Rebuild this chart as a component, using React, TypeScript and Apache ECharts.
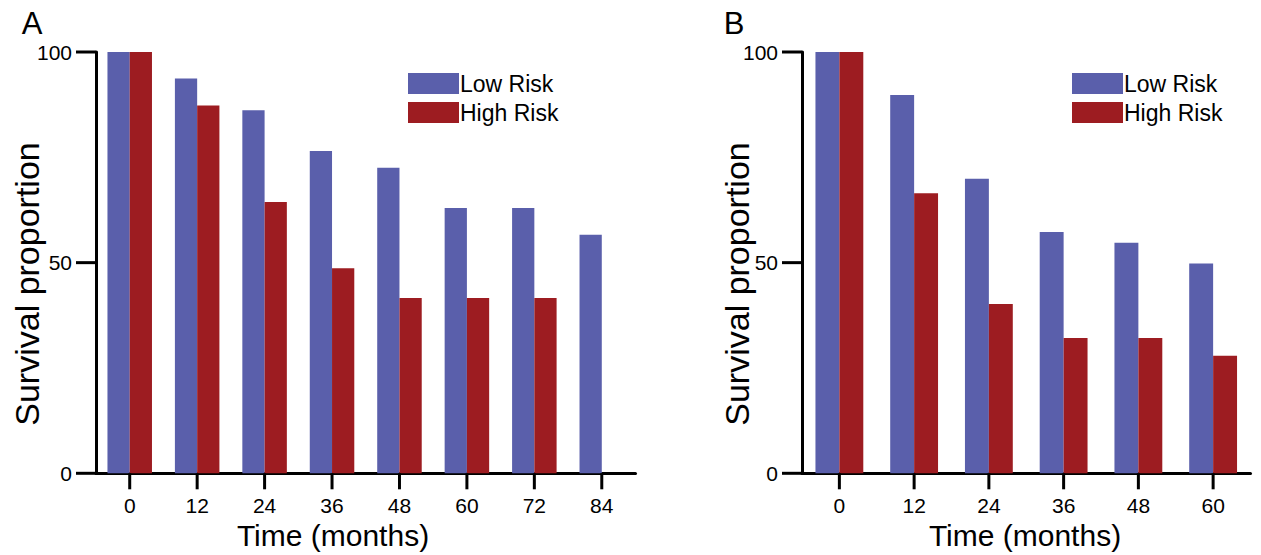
import React, { useEffect, useRef } from "react";
import * as echarts from "echarts";

const categoriesA = ["0", "12", "24", "36", "48", "60", "72", "84"];
const lowRiskA = [100, 93.7, 86.2, 76.5, 72.5, 63.0, 63.0, 56.6];
const highRiskA: (number | string)[] = [100, 87.3, 64.4, 48.7, 41.6, 41.6, 41.6, "-"];

const categoriesB = ["0", "12", "24", "36", "48", "60"];
const lowRiskB = [100, 89.8, 69.9, 57.3, 54.7, 49.8];
const highRiskB = [100, 66.5, 40.2, 32.1, 32.1, 27.9];

const yTicks = [0, 50, 100];
const seriesNames = ["Low Risk", "High Risk"];

const BLUE = "#5a5fab";
const RED = "#9d1c21";
const FONT = "'Liberation Sans', Arial, Helvetica, sans-serif";

export default function App() {
  const ref = useRef<HTMLDivElement>(null);
  useEffect(() => {
    document.body.style.margin = "0";
    if (!ref.current) return;
    const chart = echarts.init(ref.current, undefined, { renderer: "svg" });

    const xAxisCommon = {
      type: "category" as const,
      axisLine: { show: true, lineStyle: { color: "#000", width: 3 } },
      axisTick: { show: false },
      axisLabel: { fontSize: 21, color: "#000", margin: 22, fontFamily: FONT },
    };
    const yAxisCommon = {
      type: "value" as const,
      min: yTicks[0],
      max: yTicks[yTicks.length - 1],
      interval: yTicks[1] - yTicks[0],
      axisLine: { show: true, lineStyle: { color: "#000", width: 3 } },
      axisTick: { show: false },
      axisLabel: { fontSize: 21, color: "#000", margin: 24, fontFamily: FONT },
      splitLine: { show: false },
    };
    const legendCommon = {
      data: seriesNames,
      orient: "vertical" as const,
      itemWidth: 51,
      itemHeight: 21,
      itemGap: 6,
      icon: "rect",
      textStyle: { fontSize: 23, color: "#000", fontFamily: FONT, lineHeight: 21, padding: [0, 0, 0, -4] },
    };
    const barCommon = { type: "bar" as const, barGap: "0%" };
    const textStyle = (t: string, size: number) => ({
      text: t,
      fontSize: size,
      fontFamily: FONT,
      fill: "#000",
      align: "center",
      verticalAlign: "middle",
    });

    // Tick marks drawn by custom series through the axes' own scales
    const xTickSeries = (idx: number, cats: string[]) => ({
      type: "custom" as const,
      xAxisIndex: idx,
      yAxisIndex: idx,
      silent: true,
      clip: false,
      z: 10,
      data: cats.map((_, i) => [i, yTicks[0]]),
      renderItem: (params: any, api: any) => {
        const p = api.coord([api.value(0), api.value(1)]);
        return {
          type: "line",
          shape: { x1: p[0], y1: p[1], x2: p[0], y2: p[1] + 16 },
          style: { stroke: "#000", lineWidth: 3 },
        };
      },
    });
    const yTickSeries = (idx: number) => ({
      type: "custom" as const,
      xAxisIndex: idx,
      yAxisIndex: idx,
      silent: true,
      clip: false,
      z: 10,
      data: yTicks.map((v) => [0, v]),
      renderItem: (params: any, api: any) => {
        const p = api.coord([api.value(0), api.value(1)]);
        const band = api.size([1, 0])[0];
        const x0 = p[0] - band / 2;
        return {
          type: "line",
          shape: { x1: x0 - 20, y1: p[1], x2: x0, y2: p[1] },
          style: { stroke: "#000", lineWidth: 3 },
        };
      },
    });

    chart.setOption({
      animation: false,
      backgroundColor: "#fff",
      color: [BLUE, RED],
      grid: [
        { left: 96, top: 52, width: 539.5, height: 421.3 },
        { left: 802, top: 52, width: 448.5, height: 421.3 },
      ],
      xAxis: [
        { ...xAxisCommon, gridIndex: 0, data: categoriesA },
        { ...xAxisCommon, gridIndex: 1, data: categoriesB },
      ],
      yAxis: [
        { ...yAxisCommon, gridIndex: 0 },
        { ...yAxisCommon, gridIndex: 1 },
      ],
      legend: [
        { ...legendCommon, left: 403, top: 67 },
        { ...legendCommon, left: 1067, top: 67 },
      ],
      series: [
        { ...barCommon, name: seriesNames[0], xAxisIndex: 0, yAxisIndex: 0, data: lowRiskA, barCategoryGap: "34%", itemStyle: { color: BLUE } },
        { ...barCommon, name: seriesNames[1], xAxisIndex: 0, yAxisIndex: 0, data: highRiskA, barCategoryGap: "34%", itemStyle: { color: RED } },
        { ...barCommon, name: seriesNames[0], xAxisIndex: 1, yAxisIndex: 1, data: lowRiskB, barCategoryGap: "36%", itemStyle: { color: BLUE } },
        { ...barCommon, name: seriesNames[1], xAxisIndex: 1, yAxisIndex: 1, data: highRiskB, barCategoryGap: "36%", itemStyle: { color: RED } },
        xTickSeries(0, categoriesA),
        xTickSeries(1, categoriesB),
        yTickSeries(0),
        yTickSeries(1),
      ],
      graphic: [
        { type: "text", x: 32, y: 23, style: textStyle("A", 31) },
        { type: "text", x: 734, y: 23, style: textStyle("B", 31) },
        { type: "text", x: 333, y: 535, style: textStyle("Time (months)", 30) },
        { type: "text", x: 1025, y: 535, style: textStyle("Time (months)", 30) },
        { type: "text", x: 27, y: 284, rotation: Math.PI / 2, style: textStyle("Survival proportion", 34) },
        { type: "text", x: 737, y: 284, rotation: Math.PI / 2, style: textStyle("Survival proportion", 34) },
      ],
    });

    return () => chart.dispose();
  }, []);
  return <div ref={ref} style={{ width: 1261, height: 555 }} />;
}
